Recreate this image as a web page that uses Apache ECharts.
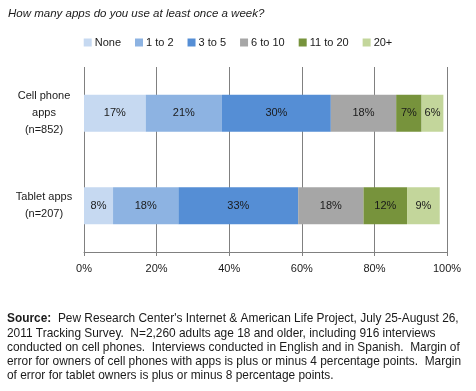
<!DOCTYPE html>
<html><head><meta charset="utf-8">
<script src="https://cdn.jsdelivr.net/npm/echarts@6/dist/echarts.min.js"></script>
<style>html,body{margin:0;padding:0;background:#fff}#c{width:476px;height:391px}</style>
</head><body><div id="c"></div>
<script>
var categories = ['Cell phone\napps\n(n=852)', 'Tablet apps\n(n=207)'];
var seriesNames = ['None', '1 to 2', '3 to 5', '6 to 10', '11 to 20', '20+'];
var noneVals = [17, 8];
var oneToTwo = [21, 18];
var threeToFive = [30, 33];
var sixToTen = [18, 18];
var elevenToTwenty = [7, 12];
var twentyPlus = [6, 9];
var xTicks = [0, 20, 40, 60, 80, 100];
var colors = ['#c6d9f1', '#8db3e2', '#558ed5', '#a6a6a6', '#77933c', '#c3d69b'];
var allVals = [noneVals, oneToTwo, threeToFive, sixToTen, elevenToTwenty, twentyPlus];
var font = 'Liberation Sans, Arial, sans-serif';

var chart = echarts.init(document.getElementById('c'));
chart.setOption({
  animation: false,
  textStyle: {fontFamily: font},
  color: colors,
  title: {
    text: 'How many apps do you use at least once a week?',
    left: 3, top: 3,
    textStyle: {fontSize: 11.5, fontStyle: 'italic', fontWeight: 'normal', color: '#1a1a1a', fontFamily: font}
  },
  legend: {
    data: seriesNames,
    top: 32, left: 'center',
    itemWidth: 8, itemHeight: 8, itemGap: 14,
    icon: 'rect',
    textStyle: {fontSize: 11, color: '#1a1a1a', padding: [0, 0, 0, -2]}
  },
  grid: {left: 84, right: 29, top: 67, bottom: 139, containLabel: false},
  xAxis: {
    type: 'value', min: xTicks[0], max: xTicks[xTicks.length - 1], interval: 20,
    axisLine: {show: true, lineStyle: {color: '#808080'}},
    axisTick: {show: true, length: 4, lineStyle: {color: '#808080'}},
    splitLine: {show: true, lineStyle: {color: '#808080', width: 1}},
    axisLabel: {fontSize: 11, color: '#1a1a1a', margin: 11, formatter: function(v){return v + '%';}}
  },
  yAxis: {
    type: 'category', data: categories, inverse: true,
    axisLine: {show: false}, axisTick: {show: false},
    axisLabel: {fontSize: 11, color: '#1a1a1a', align: 'center', margin: 40, lineHeight: 17}
  },
  series: seriesNames.map(function(n, i){
    return {
      name: n, type: 'bar', stack: 'total', barWidth: 37,
      data: allVals[i],
      itemStyle: {color: colors[i]},
      label: {show: true, position: 'inside', fontSize: 11, color: '#1a1a1a',
        formatter: function(p){return p.value + '%';}}
    };
  }),
  graphic: [{
    type: 'text', left: 7, top: 313,
    style: {
      rich: {
        b: {fontWeight: 'bold', fontSize: 11.9, fontFamily: font, fill: '#1a1a1a', lineHeight: 14.3},
        n: {fontSize: 11.9, fontFamily: font, fill: '#1a1a1a', lineHeight: 14.3}
      },
      text: '{b|Source:}{n|  Pew Research Center\'s Internet & American Life Project, July 25-August 26,}\n' +
        '{n|2011 Tracking Survey.  N=2,260 adults age 18 and older, including 916 interviews}\n' +
        '{n|conducted on cell phones.  Interviews conducted in English and in Spanish.  Margin of}\n' +
        '{n|error for owners of cell phones with apps is plus or minus 4 percentage points.  Margin}\n' +
        '{n|of error for tablet owners is plus or minus 8 percentage points.}'
    }
  }]
});
</script></body></html>
